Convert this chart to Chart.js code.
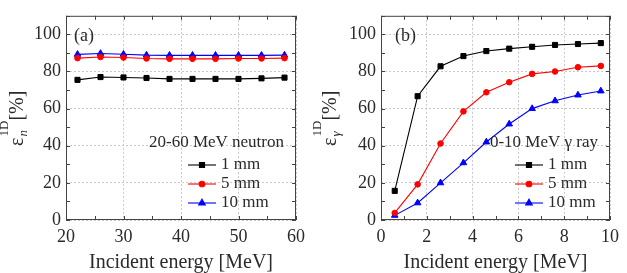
<!DOCTYPE html>
<html>
<head>
<meta charset="utf-8">
<script src="https://cdn.jsdelivr.net/npm/chart.js@4.4.0/dist/chart.umd.min.js"></script>
<style>
html, body { margin: 0; padding: 0; background: #fff; }
.panel { position: absolute; top: 0; height: 273px; }
#pa { left: 0; width: 313px; }
#pb { left: 313px; width: 314px; }
</style>
</head>
<body>
<div class="panel" id="pa"><canvas id="chartA"></canvas></div>
<div class="panel" id="pb"><canvas id="chartB"></canvas></div>
<script>
// ---- data ----
const neutronEnergy = [22, 26, 30, 34, 38, 42, 46, 50, 54, 58];
const neutron1mm  = [75.5, 77.0, 76.8, 76.5, 76.0, 76.0, 76.0, 76.0, 76.3, 76.7];
const neutron5mm  = [87.2, 87.8, 87.5, 87.0, 86.8, 86.8, 86.8, 87.0, 87.0, 87.2];
const neutron10mm = [89.2, 89.7, 89.3, 88.8, 88.7, 88.7, 88.7, 88.7, 88.7, 88.8];

const gammaEnergy = [0.6, 1.6, 2.6, 3.6, 4.6, 5.6, 6.6, 7.6, 8.6, 9.6];
const gamma1mm  = [15.7, 66.7, 82.8, 88.3, 91.0, 92.3, 93.3, 94.3, 94.8, 95.3];
const gamma5mm  = [3.8, 19.2, 41.2, 58.5, 68.8, 74.2, 78.7, 80.0, 82.3, 83.0];
const gamma10mm = [2.5, 9.2, 20.0, 30.8, 42.0, 51.7, 60.0, 64.2, 67.3, 69.5];

const thicknessLabels = ['1 mm', '5 mm', '10 mm'];
const yTicks = [0, 20, 40, 60, 80, 100];
const neutronTicks = [20, 30, 40, 50, 60];
const gammaTicks = [0, 2, 4, 6, 8, 10];

const SERIF = '"Liberation Serif", "Times New Roman", serif';
const TXT = '#2a2a2a';

function xy(xs, ys) {
    return xs.map((x, i) => ({ x: x, y: ys[i] }));
}

function series(label, xs, ys, color, style, r) {
    return {
        label: label,
        data: xy(xs, ys),
        borderColor: color,
        backgroundColor: color,
        borderWidth: 1.1,
        pointStyle: style,
        pointRadius: r,
        pointHoverRadius: r,
        pointBorderWidth: 1
    };
}

// frame, inward ticks, legend, panel label and the y title
const decoPlugin = {
    id: 'deco',
    afterDraw(chart, args, o) {
        const ctx = chart.ctx;
        const a = chart.chartArea;
        const xs = chart.scales.x, ys = chart.scales.y;
        ctx.save();

        // frame
        ctx.strokeStyle = '#444';
        ctx.lineWidth = 1;
        ctx.strokeRect(a.left + 0.5, a.top + 0.5, a.right - a.left - 1, a.bottom - a.top - 1);

        // inward ticks
        ctx.beginPath();
        for (let v = xs.min; v <= xs.max + 1e-9; v += o.xMinor) {
            const px = Math.round(xs.getPixelForValue(v)) + 0.5;
            ctx.moveTo(px, a.bottom); ctx.lineTo(px, a.bottom - 4);
            ctx.moveTo(px, a.top); ctx.lineTo(px, a.top + 4);
        }
        for (let v = ys.min; v <= ys.max + 1e-9; v += 10) {
            const py = Math.round(ys.getPixelForValue(v)) + 0.5;
            ctx.moveTo(a.left, py); ctx.lineTo(a.left + 4, py);
            ctx.moveTo(a.right, py); ctx.lineTo(a.right - 4, py);
        }
        ctx.stroke();

        // panel label
        ctx.fillStyle = TXT;
        ctx.font = '18px ' + SERIF;
        ctx.textAlign = 'left';
        ctx.textBaseline = 'middle';
        ctx.fillText(o.panel, a.left + o.panelX, a.top + 20);

        // legend
        ctx.font = '17px ' + SERIF;
        ctx.textAlign = 'right';
        ctx.fillText(o.title, a.right - 12, 143);
        ctx.textAlign = 'left';
        chart.data.datasets.forEach((ds, i) => {
            const y = 165 + i * 19;
            const x0 = a.left + o.legendX;
            ctx.strokeStyle = ds.borderColor;
            ctx.fillStyle = ds.backgroundColor;
            ctx.lineWidth = 1.1;
            ctx.beginPath();
            ctx.moveTo(x0, y); ctx.lineTo(x0 + 28, y);
            ctx.stroke();
            Chart.helpers.drawPoint(ctx, { pointStyle: ds.pointStyle, radius: ds.pointRadius, rotation: 0, borderWidth: 1 }, x0 + 14, y);
            ctx.fillStyle = TXT;
            ctx.fillText(ds.label, x0 + 33, y);
        });

        // y title: epsilon with sub/superscript, then [%]
        ctx.translate(23, (a.top + a.bottom) / 2 + 28);
        ctx.rotate(-Math.PI / 2);
        ctx.textBaseline = 'alphabetic';
        ctx.fillStyle = TXT;
        ctx.font = '20px ' + SERIF;
        ctx.fillText('ε', 0, 0);
        let w = ctx.measureText('ε').width;
        ctx.font = 'italic 13px ' + SERIF;
        ctx.fillText(o.sub, w + 1, 4);
        ctx.font = '13px ' + SERIF;
        ctx.fillText('1D', w + 1, -15);
        const w2 = Math.max(ctx.measureText('1D').width, 9);
        ctx.font = '20px ' + SERIF;
        ctx.fillText('[%]', w + w2 + 1, 0);
        ctx.restore();
    }
};

function makeChart(id, xMin, xMax, xTicks, xMinor, yWidth, datasets, deco) {
    return new Chart(document.getElementById(id), {
        type: 'line',
        data: { datasets: datasets },
        options: {
            responsive: true,
            maintainAspectRatio: false,
            animation: false,
            layout: { padding: { left: 0, right: 17, top: 0, bottom: 0 } },
            plugins: {
                legend: { display: false },
                tooltip: { enabled: false },
                deco: Object.assign({ xMinor: xMinor }, deco)
            },
            scales: {
                x: {
                    type: 'linear',
                    min: xMin,
                    max: xMax,
                    afterBuildTicks: s => { s.ticks = xTicks.map(v => ({ value: v })); },
                    afterFit: s => { s.height = 53; },
                    grid: { color: '#c8c8c8', drawTicks: false },
                    border: { display: false, dash: [2, 2] },
                    ticks: { color: TXT, padding: 6, font: { family: SERIF, size: 18 }, maxRotation: 0 },
                    title: {
                        display: true,
                        text: 'Incident energy [MeV]',
                        color: TXT,
                        padding: { top: 0, bottom: 0 },
                        font: { family: SERIF, size: 20, lineHeight: 1 }
                    }
                },
                y: {
                    min: 0,
                    max: 110,
                    afterBuildTicks: s => { s.ticks = yTicks.map(v => ({ value: v })); },
                    afterFit: s => { s.width = yWidth; },
                    grid: { color: '#c8c8c8', drawTicks: false },
                    border: { display: false, dash: [2, 2] },
                    ticks: { color: TXT, padding: 5, font: { family: SERIF, size: 18 } }
                }
            }
        },
        plugins: [decoPlugin]
    });
}

makeChart('chartA', 20, 60, neutronTicks, 5, 66, [
    series(thicknessLabels[0], neutronEnergy, neutron1mm, '#000000', 'rect', 3.6),
    series(thicknessLabels[1], neutronEnergy, neutron5mm, '#ff0000', 'circle', 2.8),
    series(thicknessLabels[2], neutronEnergy, neutron10mm, '#0000ff', 'triangle', 3.8)
], { panel: '(a)', panelX: 8, title: '20-60 MeV neutron', legendX: 122, sub: 'n' });

makeChart('chartB', 0, 10, gammaTicks, 1, 68, [
    series(thicknessLabels[0], gammaEnergy, gamma1mm, '#000000', 'rect', 3.6),
    series(thicknessLabels[1], gammaEnergy, gamma5mm, '#ff0000', 'circle', 2.8),
    series(thicknessLabels[2], gammaEnergy, gamma10mm, '#0000ff', 'triangle', 3.8)
], { panel: '(b)', panelX: 14, title: '0-10 MeV γ ray', legendX: 134, sub: 'γ' });
</script>
</body>
</html>
